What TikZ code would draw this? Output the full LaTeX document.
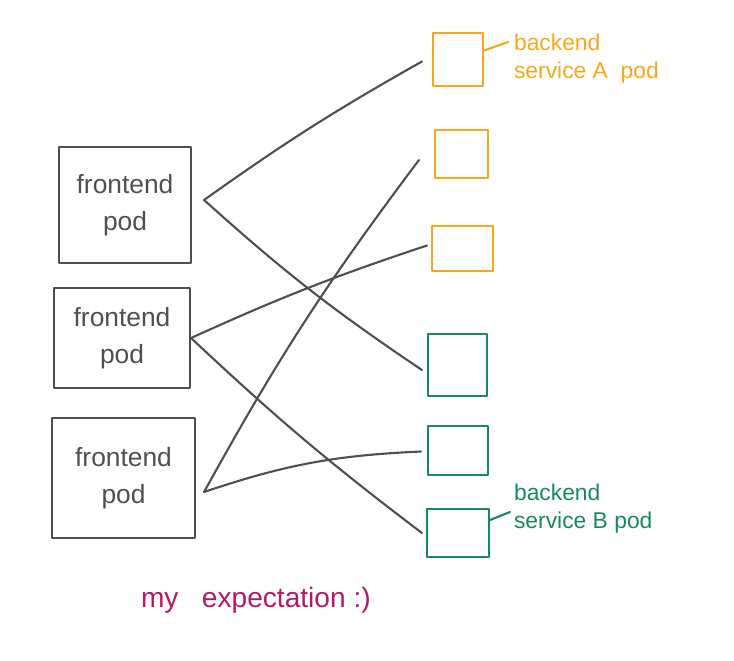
\documentclass[tikz,border=0pt]{standalone}
\usepackage{fontspec}
\setmainfont{Liberation Sans}
\usetikzlibrary{positioning}
\definecolor{penGray}{HTML}{4F4F4F}
\definecolor{penOrange}{HTML}{F5A81C}
\definecolor{penGreen}{HTML}{168A5A}
\definecolor{penPink}{HTML}{B3186C}
\begin{document}
\begin{tikzpicture}[x=0.02cm,y=-0.02cm,line width=1.2pt,line cap=round,line join=round,
  fpod/.style={draw=penGray,inner sep=0pt,align=center,text=penGray,font=\fontsize{15}{21}\selectfont},
  apod/.style={draw=penOrange,inner sep=0pt},
  bpod/.style={draw=penGreen,inner sep=0pt},
  wire/.style={draw=penGray}]
\useasboundingbox (0,0) rectangle (734,660);
% frontend pods
\node[fpod,minimum width=2.64cm,minimum height=2.32cm] (f1) at (125,205) {frontend\\pod};
\node[fpod,minimum width=2.72cm,minimum height=2.0cm] (f2) at (122,338) {frontend\\pod};
\node[fpod,minimum width=2.86cm,minimum height=2.4cm] (f3) at (123.5,478) {frontend\\pod};
% backend pods
\node[apod,minimum width=1.0cm,minimum height=1.06cm] (a1) at (458,59.5) {};
\node[apod,minimum width=1.06cm,minimum height=0.96cm] (a2) at (461.5,154) {};
\node[apod,minimum width=1.22cm,minimum height=0.9cm] (a3) at (462.5,248.5) {};
\node[bpod,minimum width=1.18cm,minimum height=1.24cm] (b1) at (457.5,365) {};
\node[bpod,minimum width=1.2cm,minimum height=0.98cm] (b2) at (458,450.5) {};
\node[bpod,minimum width=1.24cm,minimum height=0.96cm] (b3) at (458,533) {};
% wire ends, a little off the boxes
\coordinate (f1o) at ([shift={(12,-5)}]f1.east);
\coordinate (f2o) at (f2.east);
\coordinate (f3o) at ([shift={(8,14)}]f3.east);
\coordinate (a1i) at ([shift={(-10,2)}]a1.west);
\coordinate (a2i) at ([shift={(-15,6)}]a2.west);
\coordinate (a3i) at ([shift={(-4,-3)}]a3.west);
\coordinate (b1i) at ([shift={(-5,5)}]b1.west);
\coordinate (b2i) at ([shift={(-6,1)}]b2.west);
\coordinate (b3i) at ([shift={(-4,0)}]b3.west);
\draw[wire] (f1o) to[bend left=3] (a1i);
\draw[wire] (f1o) to[bend right=4] (b1i);
\draw[wire] (f2o) to[bend left=3] (a3i);
\draw[wire] (f2o) to[bend right=3] (b3i);
\draw[wire] (f3o) to[bend left=4] (a2i);
\draw[wire] (f3o) to[bend left=8] (b2i);
% labels
\node[anchor=north west,align=left,text=penOrange,inner sep=0pt,font=\fontsize{13}{16}\selectfont] (alab) at (513,33) {backend\\service A\ \ pod};
\node[anchor=north west,align=left,text=penGreen,inner sep=0pt,font=\fontsize{13}{16}\selectfont] (blab) at (513,483) {backend\\service B pod};
\draw[penOrange] ([shift={(0,-9)}]a1.east) -- ([shift={(-5,9)}]alab.north west);
\draw[penGreen] ([shift={(0,-13)}]b3.east) -- ([shift={(-3,29)}]blab.north west);
\node[anchor=west,text=penPink,inner sep=0pt,font=\fontsize{16}{19}\selectfont] (note) at (140,600) {my\ \ \ expectation\ :)};
\end{tikzpicture}
\end{document}
